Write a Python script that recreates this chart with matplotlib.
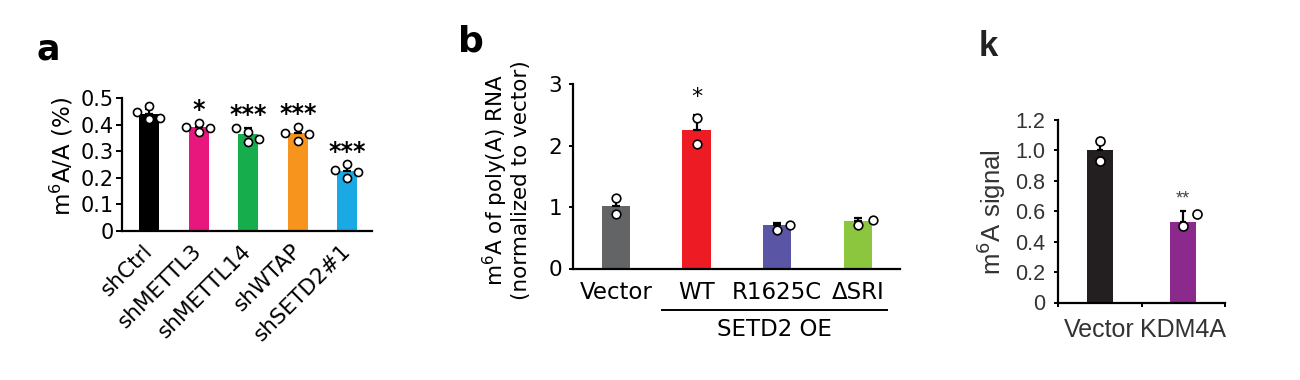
import numpy as np
import matplotlib
matplotlib.use('Agg')
import matplotlib.pyplot as plt
from matplotlib.transforms import blended_transform_factory

# panel a
a_groups = ['shCtrl', 'shMETTL3', 'shMETTL14', 'shWTAP', 'shSETD2#1']
a_means = [0.44, 0.39, 0.363, 0.367, 0.225]
a_sd = [0.02, 0.015, 0.025, 0.022, 0.022]
a_points = [[0.446, 0.470, 0.421, 0.424],
            [0.392, 0.407, 0.371, 0.388],
            [0.388, 0.371, 0.333, 0.346],
            [0.367, 0.392, 0.338, 0.365],
            [0.229, 0.252, 0.200, 0.223]]
a_stars = ['', '*', '***', '***', '***']
a_colors = ['#000000', '#E8177D', '#16AD4C', '#F7941D', '#19AAE6']
a_yticks = [0, 0.1, 0.2, 0.3, 0.4, 0.5]
a_yticklabels = ['0', '0.1', '0.2', '0.3', '0.4', '0.5']

# panel b
b_groups = ['Vector', 'WT', 'R1625C', '\u0394SRI']
b_means = [1.01, 2.25, 0.70, 0.77]
b_sd = [0.12, 0.25, 0.04, 0.05]
b_points = [[1.14, 0.88], [2.44, 2.03], [0.63, 0.70], [0.70, 0.79]]
b_stars = ['', '*', '', '']
b_colors = ['#636466', '#ED1C24', '#5B55A5', '#8CC63F']
b_yticks = [0, 1, 2, 3]

# panel k
k_groups = ['Vector', 'KDM4A']
k_means = [1.0, 0.53]
k_sd = [0.06, 0.07]
k_points = [[1.06, 0.93], [0.50, 0.585]]
k_stars = ['', '**']
k_colors = ['#231F20', '#8B2A8C']
k_yticks = [0, 0.2, 0.4, 0.6, 0.8, 1.0, 1.2]
k_yticklabels = ['0', '0.2', '0.4', '0.6', '0.8', '1.0', '1.2']

W, H = 1300, 380
fig = plt.figure(figsize=(13, 3.8), dpi=100)


def px_axes(x0, x1, y_top, y_bot):
    return fig.add_axes([x0 / W, 1 - y_bot / H, (x1 - x0) / W, (y_bot - y_top) / H])


def style(ax, lw=1.6):
    for s in ['top', 'right']:
        ax.spines[s].set_visible(False)
    for s in ['left', 'bottom']:
        ax.spines[s].set_linewidth(lw)


def draw(ax, means, sd, points, colors, width, dx, ms, cap):
    x = np.arange(len(means))
    ax.bar(x, means, width=width, color=colors, zorder=1)
    for i in range(len(means)):
        ax.errorbar(i, means[i], yerr=[[0], [sd[i]]], color='black',
                    elinewidth=1.6, capsize=cap, capthick=1.6, zorder=2)
        ax.plot(i + np.array(dx[i]), points[i], 'o', ms=ms,
                mfc='white', mec='black', mew=1.2, zorder=3, clip_on=False)


# ---- a ----
plt.rcParams['font.family'] = 'DejaVu Sans'
axa = px_axes(122, 372, 98, 231)
style(axa)
draw(axa, a_means, a_sd, a_points, a_colors, 0.41,
     [[-0.25, 0, 0, 0.22]] * 5, 5.8, 3)
axa.set_xlim(-0.55, 4.5)
axa.set_ylim(0, 0.5)
axa.set_yticks(a_yticks)
axa.set_yticklabels(a_yticklabels, fontsize=15)
axa.tick_params(axis='y', length=4, width=1.4, pad=2)
axa.set_xticks(range(len(a_groups)))
axa.set_xticklabels(a_groups, fontsize=15.5, rotation=45, ha='right',
                    va='center', rotation_mode='anchor')
axa.tick_params(axis='x', length=0, pad=12)
for i, s in enumerate(a_stars):
    if s:
        axa.annotate(s, (i, max(a_points[i]) + 0.078), xytext=(0, -6),
                     textcoords='offset points', ha='center', va='center',
                     fontsize=17, fontweight='bold')
fig.text(62 / W, 1 - 156 / H, r'm$^6$A/A (%)', rotation=90, ha='center',
         va='center', fontsize=16.5)
fig.text(48 / W, 1 - 49 / H, 'a', fontsize=25, fontweight='bold',
         ha='center', va='center')

# ---- b ----
axb = px_axes(573, 900, 84, 268.5)
style(axb)
draw(axb, b_means, b_sd, b_points, b_colors, 0.35,
     [[0, 0], [0, 0], [0, 0.16], [0, 0.18]], 6.2, 3)
axb.set_xlim(-0.53, 3.52)
axb.set_ylim(0, 3)
axb.set_yticks(b_yticks)
axb.tick_params(axis='y', labelsize=15.5, length=3, width=1.4, pad=5)
axb.set_xticks(range(len(b_groups)))
axb.set_xticklabels(b_groups, fontsize=16.5)
axb.tick_params(axis='x', length=0, pad=9)
for i, s in enumerate(b_stars):
    if s:
        axb.annotate(s, (i, max(b_points[i]) + 0.46), xytext=(0, -5),
                     textcoords='offset points', ha='center', va='center',
                     fontsize=16)
tb = blended_transform_factory(axb.transData, axb.transAxes)
axb.plot([0.57, 3.36], [-0.223, -0.223], color='black', lw=1.4,
         transform=tb, clip_on=False)
axb.text((0.57 + 3.36) / 2, -0.33, 'SETD2 OE', transform=tb, ha='center',
         va='center', fontsize=16.5)
fig.text(495 / W, 1 - 180 / H, r'm$^6$A of poly(A) RNA', rotation=90,
         ha='center', va='center', fontsize=15.5)
fig.text(521 / W, 1 - 180 / H, '(normalized to vector)', rotation=90,
         ha='center', va='center', fontsize=15.5)
fig.text(471 / W, 1 - 42 / H, 'b', fontsize=26, fontweight='bold',
         ha='center', va='center')

# ---- k ----
kfont = 'Liberation Sans'
axk = px_axes(1058, 1225, 120, 302.5)
style(axk)
draw(axk, k_means, k_sd, k_points, k_colors, 0.31, [[0, 0], [0, 0.16]],
     6.5, 2.5)
axk.set_xlim(-0.5, 1.5)
axk.set_ylim(0, 1.2)
axk.set_yticks(k_yticks)
axk.set_yticklabels(k_yticklabels, fontsize=15.5, family=kfont,
                    color='#333333')
axk.tick_params(axis='y', length=3, width=1.4, pad=6)
axk.set_xticks([-0.5, 0.5, 1.5], minor=True)
axk.set_xticks(range(len(k_groups)))
axk.set_xticklabels(k_groups, fontsize=18, family=kfont, color='#333333')
axk.tick_params(axis='x', which='major', length=0, pad=11)
axk.tick_params(axis='x', which='minor', length=3, width=1.4)
for i, s in enumerate(k_stars):
    if s:
        axk.annotate(s, (i, max(k_points[i]) + 0.135), xytext=(0, -4),
                     textcoords='offset points', ha='center', va='center',
                     fontsize=13, family=kfont, color='#444444')
fig.text(991 / W, 1 - 212 / H, r'm$^6$A signal', rotation=90, ha='center',
         va='center', fontsize=18.5, family=kfont, color='#333333')
fig.text(988 / W, 1 - 47 / H, 'k', fontsize=25, fontweight='bold',
         family=kfont, ha='center', va='center', color='#222222')

fig.savefig('out.png', dpi=100)
